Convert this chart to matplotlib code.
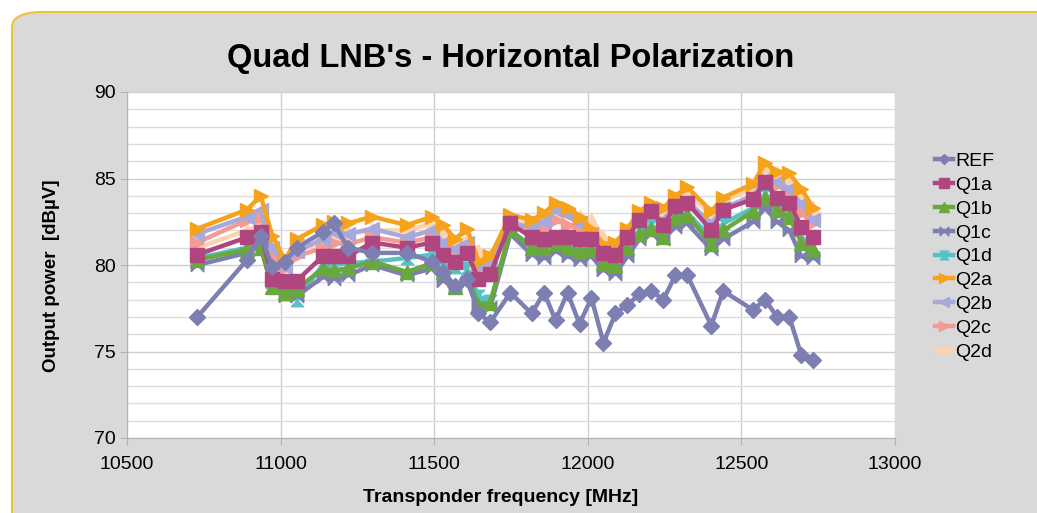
import matplotlib
matplotlib.use('Agg')
from matplotlib import pyplot as plt
from matplotlib.patches import FancyBboxPatch
from matplotlib.ticker import MultipleLocator

plt.rcParams['font.family'] = ['Liberation Sans', 'DejaVu Sans']

# Transponder frequencies (MHz)
freqs = [10729, 10891, 10935, 10973, 11014, 11053, 11137, 11174, 11219, 11298,
         11411, 11493, 11530, 11568, 11607, 11644, 11683, 11748, 11817, 11858,
         11895, 11934, 11973, 12012, 12051, 12090, 12129, 12168, 12207, 12246,
         12285, 12324, 12402, 12441, 12538, 12577, 12616, 12656, 12695, 12734]

# Output power (dBuV) per LNB output
ref = [77.0, 80.3, 81.7, 79.9, 80.2, 81.0, 81.9, 82.4, 81.0, 80.7,
       80.7, 80.2, 79.6, 78.8, 79.2, 77.2, 76.7, 78.4, 77.2, 78.4,
       76.8, 78.4, 76.6, 78.1, 75.5, 77.2, 77.7, 78.3, 78.5, 78.0,
       79.4, 79.4, 76.5, 78.5, 77.4, 78.0, 77.0, 77.0, 74.8, 74.5]
q1a = [80.6, 81.6, 81.9, 79.2, 79.1, 79.1, 80.5, 80.5, 80.5, 81.3,
       81.0, 81.3, 80.6, 80.2, 80.7, 79.2, 79.5, 82.4, 81.6, 81.5,
       81.6, 81.6, 81.5, 81.5, 80.7, 80.6, 81.6, 82.6, 83.1, 82.3,
       83.4, 83.6, 82.0, 83.2, 83.8, 84.8, 83.9, 83.6, 82.2, 81.6]
q1b = [80.3, 80.9, 81.0, 78.7, 78.4, 78.6, 79.8, 79.7, 79.8, 80.2,
       79.6, 80.1, 79.6, 78.7, 79.3, 77.7, 77.8, 82.0, 81.0, 81.0,
       81.3, 81.0, 80.8, 80.9, 80.1, 80.0, 81.0, 81.8, 82.1, 81.6,
       82.7, 82.9, 81.2, 82.0, 83.1, 83.9, 83.2, 82.8, 81.3, 80.9]
q1c = [80.0, 80.7, 81.4, 79.0, 78.2, 78.2, 79.3, 79.2, 79.4, 80.0,
       79.4, 79.8, 79.1, 78.7, 79.0, 77.6, 77.6, 81.8, 80.6, 80.4,
       80.8, 80.5, 80.3, 80.5, 79.7, 79.5, 80.5, 81.5, 81.8, 81.5,
       82.2, 82.4, 80.9, 81.5, 82.5, 83.3, 82.5, 82.0, 80.5, 80.4]
q1d = [80.4, 81.0, 81.2, 78.8, 78.3, 78.0, 80.0, 80.0, 80.1, 80.2,
       80.4, 80.6, 80.0, 79.9, 79.8, 78.2, 77.9, 82.0, 81.1, 81.1,
       81.3, 81.1, 80.9, 81.0, 80.3, 80.2, 81.2, 82.0, 82.3, 81.8,
       82.9, 83.0, 81.6, 82.4, 83.3, 84.1, 83.5, 83.1, 81.6, 81.1]
q2a = [82.1, 83.2, 84.0, 81.7, 80.3, 81.5, 82.3, 82.5, 82.4, 82.8,
       82.3, 82.8, 82.3, 81.5, 82.1, 80.2, 80.5, 82.9, 82.6, 83.0,
       83.6, 83.3, 82.8, 82.1, 81.2, 81.3, 82.1, 83.1, 83.6, 83.3,
       84.0, 84.5, 83.1, 83.9, 84.7, 85.9, 85.4, 85.3, 84.4, 83.3]
q2b = [81.8, 82.8, 83.2, 81.0, 79.9, 80.8, 81.5, 81.9, 81.8, 82.1,
       81.6, 82.0, 81.3, 80.9, 81.3, 80.0, 80.2, 82.4, 82.2, 82.5,
       83.2, 82.9, 82.4, 81.8, 80.9, 81.0, 81.7, 82.6, 82.9, 82.6,
       83.5, 83.7, 82.4, 83.3, 84.0, 85.0, 84.8, 84.4, 83.5, 82.6]
q2c = [81.3, 82.6, 82.8, 80.5, 79.8, 80.5, 81.0, 81.3, 81.2, 81.6,
       81.3, 81.6, 81.0, 80.6, 81.0, 79.8, 80.0, 82.3, 81.9, 82.0,
       82.6, 82.3, 82.1, 81.5, 80.8, 80.8, 81.7, 82.5, 82.8, 82.4,
       83.3, 83.5, 82.2, 83.2, 83.9, 85.0, 84.6, 84.2, 83.0, 82.4]
q2d = [81.0, 82.0, 82.3, 80.5, 80.2, 80.8, 81.3, 81.8, 81.8, 82.0,
       82.0, 82.4, 81.8, 81.4, 81.5, 80.8, 80.6, 82.5, 82.4, 82.6,
       83.2, 83.1, 82.8, 82.6, 81.6, 81.2, 82.0, 83.0, 83.3, 83.1,
       83.8, 84.1, 82.9, 83.7, 84.4, 85.7, 85.3, 85.0, 84.2, 83.3]

bowtie = [(-1, -1), (1, 1), (1, -1), (-1, 1), (-1, -1)]
hourglass = [(-1, -1), (1, -1), (-1, 1), (1, 1), (-1, -1)]

series = [
    ('REF', ref, '#7d7fb2', 'D', 8),
    ('Q1a', q1a, '#b0467f', 's', 10),
    ('Q1b', q1b, '#68a83c', '^', 10),
    ('Q1c', q1c, '#7d7fb2', bowtie, 9),
    ('Q1d', q1d, '#55c3c6', hourglass, 9),
    ('Q2a', q2a, '#f5a21c', '>', 10),
    ('Q2b', q2b, '#a7a9dd', '<', 10),
    ('Q2c', q2c, '#f39a92', '>', 10),
    ('Q2d', q2d, '#fcd3ae', '^', 10),
]

fig = plt.figure(figsize=(10.37, 5.13), dpi=100)
fig.patch.set_facecolor('white')

# Rounded gray panel with yellow border
panel = FancyBboxPatch((12 / 1037, -0.05), 1.1, 1 - 12 / 513 + 0.05,
                       boxstyle='round,pad=0,rounding_size=0.03',
                       transform=fig.transFigure, facecolor='#d9d9d9',
                       edgecolor='#f2c232', linewidth=1.5, zorder=-10)
fig.patches.append(panel)

ax = fig.add_axes([127 / 1037, 1 - 438 / 513, 768 / 1037, 346 / 513])
ax.set_facecolor('white')

# Draw from last to first so that the REF/Q1 lines sit on top
for name, vals, color, marker, ms in reversed(series):
    ax.plot(freqs, vals, color=color, lw=3.2, marker=marker, ms=ms,
            mec=color, mfc=color, label=name)

ax.set_xlim(10500, 13000)
ax.set_ylim(70, 90)
ax.xaxis.set_major_locator(MultipleLocator(500))
ax.yaxis.set_major_locator(MultipleLocator(5))
ax.yaxis.set_minor_locator(MultipleLocator(1))
ax.grid(True, which='major', color='#cfcfcf', lw=1)
ax.grid(True, which='minor', axis='y', color='#dcdcdc', lw=1)
ax.set_axisbelow(True)
for s in ['top', 'right']:
    ax.spines[s].set_visible(False)
for s in ['left', 'bottom']:
    ax.spines[s].set_color('#b3b3b3')
ax.tick_params(axis='both', which='major', labelsize=14, length=5,
               color='#b3b3b3', pad=3)
ax.tick_params(axis='y', which='minor', length=0)
ax.tick_params(axis='x', pad=8)

fig.text(511 / 1037, 1 - 58 / 513, "Quad LNB's - Horizontal Polarization",
         ha='center', va='center', fontsize=23.5, fontweight='bold')
fig.text(501 / 1037, 1 - 497 / 513, 'Transponder frequency [MHz]',
         ha='center', va='center', fontsize=14, fontweight='bold')
fig.text(52 / 1037, 1 - 276 / 513, 'Output power  [dBµV]', rotation=90,
         ha='center', va='center', fontsize=13.5, fontweight='bold')

handles, labels = ax.get_legend_handles_labels()
leg = fig.legend(handles[::-1], labels[::-1], loc='upper left',
                 bbox_to_anchor=(917 / 1037, 1 - 135 / 513), frameon=False,
                 fontsize=14, handlelength=0.95, handletextpad=0.1,
                 labelspacing=0.32, markerscale=0.7)

fig.savefig('out.png', dpi=100)
